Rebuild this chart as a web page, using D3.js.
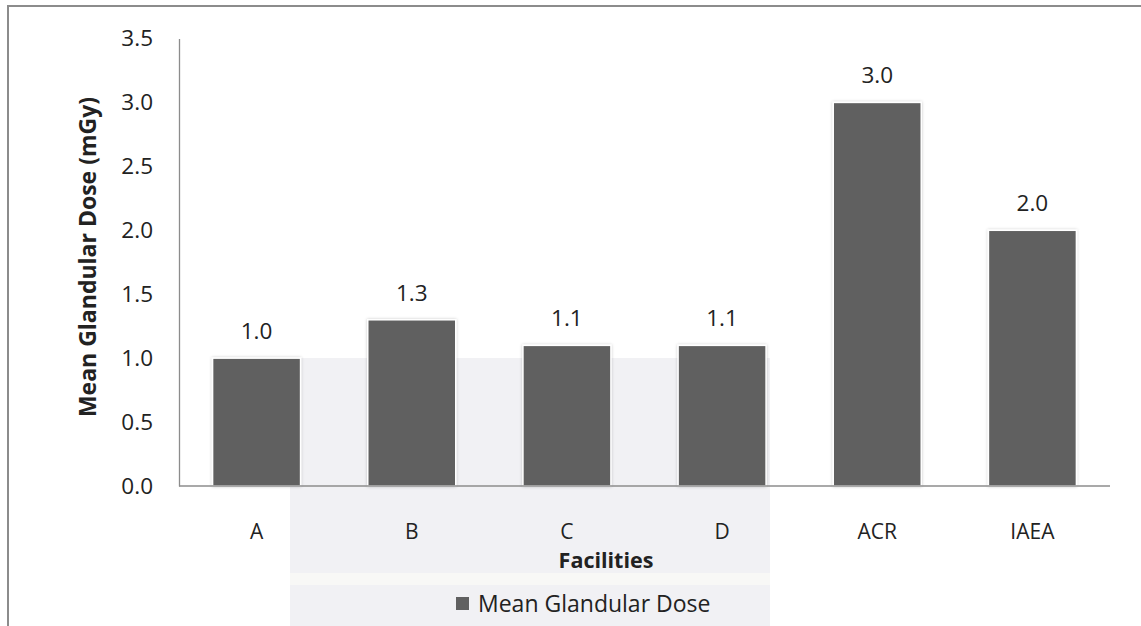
<!DOCTYPE html>
<html>
<head>
<meta charset="utf-8">
<script src="https://cdn.jsdelivr.net/npm/d3@7"></script>
<style>
  html, body { margin: 0; padding: 0; background: #fff; }
  svg { display: block; }
  text { font-family: "Open Sans", "Noto Sans", sans-serif; fill: #222; }
</style>
</head>
<body>
<svg id="chart" width="1141" height="626"></svg>
<script>
const categories = ["A", "B", "C", "D", "ACR", "IAEA"];
const values = [1.0, 1.3, 1.1, 1.1, 3.0, 2.0];
const yTicks = [0.0, 0.5, 1.0, 1.5, 2.0, 2.5, 3.0, 3.5];
const seriesName = "Mean Glandular Dose";
const xTitle = "Facilities";
const yTitle = "Mean Glandular Dose (mGy)";

const W = 1141, H = 626;
const plot = { left: 179, right: 1110, top: 38.5, bottom: 486 };

const svg = d3.select("#chart");

// outer frame (cut off on the right and bottom like the reference)
svg.append("rect").attr("x", 8).attr("y", 6).attr("width", W).attr("height", H)
  .attr("fill", "#fff").attr("stroke", "#8c8c8c").attr("stroke-width", 2);

const x = d3.scaleBand().domain(categories).range([plot.left, plot.right]).paddingInner(0.433).paddingOuter(0.2165);
const y = d3.scaleLinear().domain([0, 3.5]).range([plot.bottom, plot.top]);

// faint watermark panels behind
svg.append("rect").attr("x", 290).attr("y", 358).attr("width", 480).attr("height", H - 358)
  .attr("fill", "#f1f1f4");
svg.append("rect").attr("x", 290).attr("y", 573).attr("width", 480).attr("height", 12)
  .attr("fill", "#f8f8f6");

const defs = svg.append("defs");
const f = defs.append("filter").attr("id", "shadow").attr("x", "-10%").attr("y", "-10%").attr("width", "120%").attr("height", "120%");
f.append("feDropShadow").attr("dx", 0).attr("dy", 0).attr("stdDeviation", 1.6)
  .attr("flood-color", "#000").attr("flood-opacity", 0.22);

// bars
svg.append("g").selectAll("rect").data(values).join("rect")
  .attr("x", (d, i) => x(categories[i]))
  .attr("y", d => y(d))
  .attr("width", x.bandwidth())
  .attr("height", d => y(0) - y(d))
  .attr("fill", "#606060")
  .attr("stroke", "#fff").attr("stroke-width", 1.5)
  .attr("filter", "url(#shadow)");

// axes
const yAxis = d3.axisLeft(y).tickValues(yTicks).tickFormat(d3.format(".1f")).tickSize(0).tickPadding(26);
const gy = svg.append("g").attr("transform", `translate(${plot.left},0)`).call(yAxis);
gy.select(".domain").attr("stroke", "#8c8c8c").attr("stroke-width", 1.3);
gy.selectAll("text").attr("font-size", 22.5).attr("fill", "#222").attr("font-family", '"Open Sans", sans-serif');

const xAxis = d3.axisBottom(x).tickSize(0).tickPadding(38);
const gx = svg.append("g").attr("transform", `translate(0,${plot.bottom})`).call(xAxis);
gx.select(".domain").attr("stroke", "#8c8c8c").attr("stroke-width", 1.3).attr("d", `M${plot.left},0H${plot.right}`);
gx.selectAll("text").attr("font-size", 21).attr("fill", "#222").attr("font-family", '"Open Sans", sans-serif');

// data labels
svg.append("g").selectAll("text").data(values).join("text")
  .attr("x", (d, i) => x(categories[i]) + x.bandwidth() / 2)
  .attr("y", d => y(d) - 19)
  .attr("text-anchor", "middle")
  .attr("font-size", 22.5)
  .text(d => d3.format(".1f")(d));

// axis titles
svg.append("text").attr("x", 606).attr("y", 568).attr("text-anchor", "middle")
  .attr("font-size", 21.5).attr("font-weight", "bold").text(xTitle);
svg.append("text").attr("transform", `translate(96,257) rotate(-90)`)
  .attr("text-anchor", "middle").attr("font-size", 23).attr("font-weight", "bold").text(yTitle);

// legend
const lg = svg.append("g").attr("transform", "translate(456,597)");
lg.append("rect").attr("width", 13).attr("height", 13).attr("fill", "#606060");
lg.append("text").attr("x", 22).attr("y", 15).attr("font-size", 23).text(seriesName);
</script>
</body>
</html>
